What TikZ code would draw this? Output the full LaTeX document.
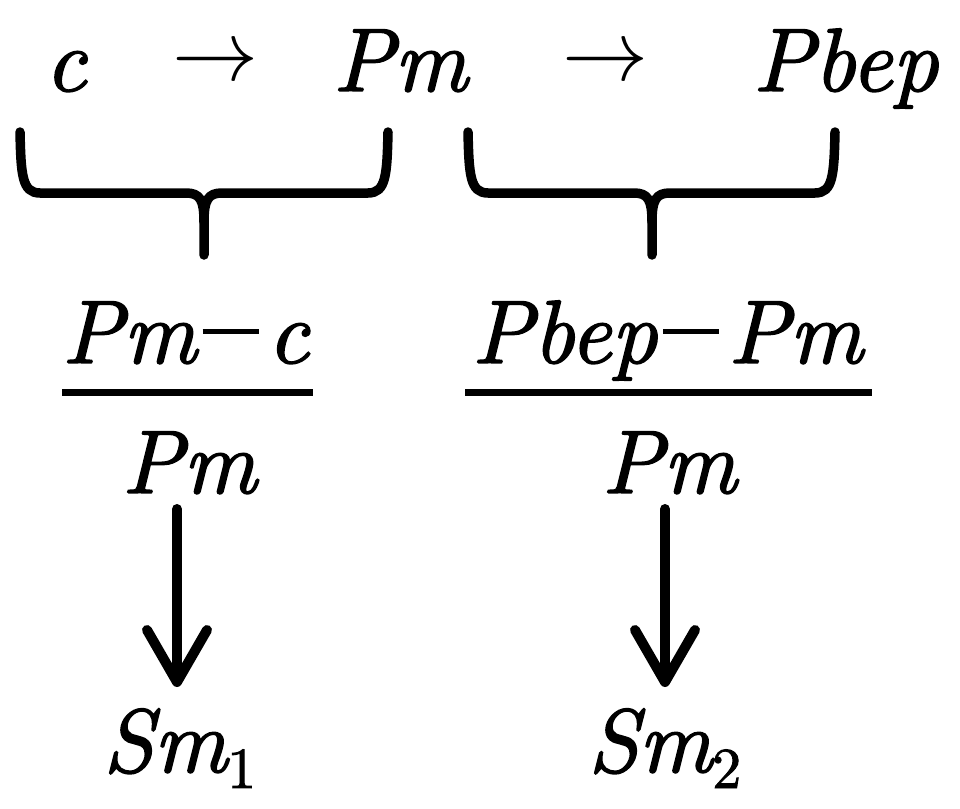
\documentclass[tikz,border=0pt]{standalone}
\usepackage{fontspec}
\usepackage{graphicx}
\newfontfamily\lmi{lmroman10-italic.otf}[FakeBold=1.6]
\newfontfamily\lmr{lmroman10-regular.otf}[FakeBold=1.6]
\usetikzlibrary{arrows.meta}
\tikzset{
  txt/.style={inner sep=0pt, outer sep=0pt, anchor=base west, font=\lmi\fontsize{90}{90}\selectfont},
  brace/.style={line width=9.5pt, line cap=round, line join=round},
  fracline/.style={line width=7pt},
  downarr/.style={line width=10pt, line cap=round, -{Straight Barb[length=52pt, width=60pt, round]}},
}
\newcommand{\mn}{\kern6pt\raisebox{29pt}{\rule{56pt}{5pt}}\kern9pt}
\newcommand{\rarr}{\raisebox{10pt}{\scalebox{8.6}{\fontsize{10}{10}\selectfont$\rightarrow$}}}
\newcommand{\sub}[1]{\raisebox{-16pt}{\lmr\fontsize{58}{58}\selectfont #1}}
\begin{document}
\begin{tikzpicture}[x=1pt,y=-1pt]
\useasboundingbox (0,0) rectangle (960,808);
% top row
\node[txt] (c) at (45,91) {c};
\node[txt] (ar1) at (172,91) {\rarr};
\node[txt] (pmtop) at (333,91) {Pm};
\node[txt] (ar2) at (562,91) {\rarr};
\node[txt] (pbep) at (753,91) {Pbep};
% braces
\draw[brace] (20,132) .. controls (21,175) and (22,193) .. (40,193) -- (186,193)
  .. controls (200,193) and (204,200) .. (204,222) -- (204,255);
\draw[brace] (204,222) .. controls (204,200) and (208,193) .. (222,193) -- (368,193)
  .. controls (386,193) and (387,175) .. (388,132);
\draw[brace] (468,132) .. controls (469,175) and (470,193) .. (488,193) -- (634,193)
  .. controls (648,193) and (652,200) .. (652,222) -- (652,255);
\draw[brace] (652,222) .. controls (652,200) and (656,193) .. (670,193) -- (815,193)
  .. controls (833,193) and (834,175) .. (835,132);
% fractions
\node[txt] (num1) at (62,363) {Pm\mn c};
\draw[fracline] (62,392) -- (313,392);
\node[txt] (den1) at (122,493) {Pm};
\node[txt] (num2) at (472,363) {Pbep\mn Pm};
\draw[fracline] (465,392) -- (872,392);
\node[txt] (den2) at (602,493) {Pm};
% results
\node[txt] (sm1) at (103,772) {Sm\sub{1}};
\node[txt] (sm2) at (588,772) {Sm\sub{2}};
% arrows
\coordinate (a1s) at (177,509);
\coordinate (a1e) at (177,687);
\coordinate (a2s) at (665,509);
\coordinate (a2e) at (665,687);
\draw[downarr] (a1s) -- (a1e);
\draw[downarr] (a2s) -- (a2e);
\end{tikzpicture}
\end{document}
